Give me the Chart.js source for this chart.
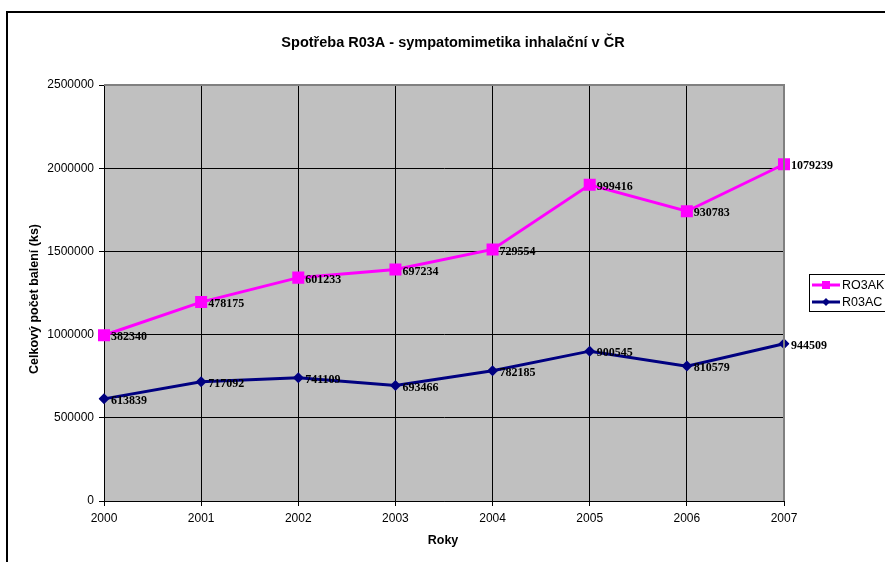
<!DOCTYPE html>
<html>
<head>
<meta charset="utf-8">
<script src="https://cdn.jsdelivr.net/npm/chart.js@4.4.0/dist/chart.umd.min.js"></script>
<style>
  html, body { margin: 0; padding: 0; background: #fff; }
  #wrap { width: 885px; height: 562px; position: relative; }
</style>
</head>
<body>
<div id="wrap"><canvas id="myChart" width="885" height="562"></canvas></div>
<script>
let years = ["2000", "2001", "2002", "2003", "2004", "2005", "2006", "2007"];
let r03ac = [613839, 717092, 741109, 693466, 782185, 900545, 810579, 944509];
let ro3ak = [382340, 478175, 601233, 697234, 729554, 999416, 930783, 1079239];
let yTicks = [0, 500000, 1000000, 1500000, 2000000, 2500000];

let chartTitle = "Spotřeba R03A - sympatomimetika inhalační v ČR";
let yTitle = "Celkový počet balení (ks)";
let xTitle = "Roky";

let sans = "'Liberation Sans', Arial, sans-serif";
let serif = "'Liberation Serif', 'Times New Roman', serif";

// frame, plot background, titles, legend
const decor = {
  id: "decor",
  beforeDraw(chart) {
    let c = chart.ctx;
    let a = chart.chartArea;
    c.save();
    c.fillStyle = "#fff";
    c.fillRect(0, 0, chart.width, chart.height);
    c.strokeStyle = "#000";
    c.lineWidth = 2;
    c.strokeRect(7, 12, 900, 600);
    c.fillStyle = "#c0c0c0";
    c.fillRect(a.left, a.top, a.right - a.left, a.bottom - a.top);
    c.restore();
  },
  afterDraw(chart) {
    let c = chart.ctx;
    let a = chart.chartArea;
    c.save();
    // plot border (gray, right and top)
    c.strokeStyle = "#808080";
    c.lineWidth = 2;
    c.beginPath();
    c.moveTo(a.left, a.top);
    c.lineTo(a.right, a.top);
    c.lineTo(a.right, a.bottom);
    c.stroke();

    c.fillStyle = "#000";
    c.textAlign = "center";
    c.textBaseline = "middle";
    c.font = "bold 14.5px " + sans;
    c.fillText(chartTitle, 453, 43);
    c.font = "bold 12.5px " + sans;
    c.fillText(xTitle, 443, 541);
    c.translate(35, 299);
    c.rotate(-Math.PI / 2);
    c.fillText(yTitle, 0, 0);
    c.restore();

    // legend
    c.save();
    c.fillStyle = "#fff";
    c.fillRect(809, 274, 80, 37);
    c.strokeStyle = "#000";
    c.lineWidth = 1;
    c.strokeRect(809.5, 274.5, 80, 37);
    let items = [
      { label: "RO3AK", color: "#ff00ff", shape: "rect", y: 285 },
      { label: "R03AC", color: "#000080", shape: "rectRot", y: 302 }
    ];
    items.forEach((it) => {
      c.strokeStyle = it.color;
      c.lineWidth = 3;
      c.beginPath();
      c.moveTo(812, it.y);
      c.lineTo(840, it.y);
      c.stroke();
      c.fillStyle = it.color;
      if (it.shape == "rect") {
        c.fillRect(822, it.y - 4, 8, 8);
      } else {
        c.beginPath();
        c.moveTo(826, it.y - 4);
        c.lineTo(830, it.y);
        c.lineTo(826, it.y + 4);
        c.lineTo(822, it.y);
        c.closePath();
        c.fill();
      }
      c.fillStyle = "#000";
      c.font = "12.5px " + sans;
      c.textAlign = "left";
      c.textBaseline = "middle";
      c.fillText(it.label, 842, it.y + 1);
    });
    c.restore();
  }
};

// value labels next to each point
const pointLabels = {
  id: "pointLabels",
  afterDatasetsDraw(chart) {
    let c = chart.ctx;
    c.save();
    c.fillStyle = "#000";
    c.font = "bold 12px " + serif;
    c.textAlign = "left";
    c.textBaseline = "middle";
    chart.data.datasets.forEach((ds, i) => {
      let meta = chart.getDatasetMeta(i);
      meta.data.forEach((pt, j) => {
        c.fillText(String(ds.data[j]), pt.x + 7, pt.y + 2);
      });
    });
    c.restore();
  }
};

const ctx = document.getElementById("myChart");
new Chart(ctx, {
  type: "line",
  data: {
    labels: years,
    datasets: [
      {
        label: "R03AC",
        data: r03ac,
        borderColor: "#000080",
        backgroundColor: "#000080",
        borderWidth: 3,
        pointStyle: "rectRot",
        pointRadius: 5.5,
        pointBorderWidth: 0,
        tension: 0,
        fill: false
      },
      {
        label: "RO3AK",
        data: ro3ak,
        borderColor: "#ff00ff",
        backgroundColor: "#ff00ff",
        borderWidth: 3,
        pointStyle: "rect",
        pointRadius: 8.5,
        pointBorderWidth: 0,
        tension: 0,
        fill: false
      }
    ]
  },
  options: {
    responsive: false,
    animation: false,
    events: [],
    layout: { padding: { left: 7, right: 101, top: 85, bottom: 0 } },
    plugins: {
      legend: { display: false },
      title: { display: false },
      tooltip: { enabled: false }
    },
    scales: {
      x: {
        offset: false,
        grid: { color: "#000", lineWidth: 1, offset: false, tickLength: 5, drawTicks: true },
        border: { color: "#000", width: 1 },
        ticks: { color: "#000", font: { family: sans, size: 12 }, padding: 5, maxRotation: 0 },
        afterFit(scale) { scale.height = 61; }
      },
      y: {
        stacked: true,
        min: 0,
        max: 2500000,
        afterBuildTicks(scale) { scale.ticks = yTicks.map((v) => ({ value: v })); },
        grid: { color: "#000", lineWidth: 1, tickLength: 5 },
        border: { color: "#000", width: 1 },
        ticks: { color: "#000", font: { family: sans, size: 12 }, padding: 5, callback: (v) => String(v) },
        afterFit(scale) { scale.width = 97; }
      }
    }
  },
  plugins: [decor, pointLabels]
});
</script>
</body>
</html>
